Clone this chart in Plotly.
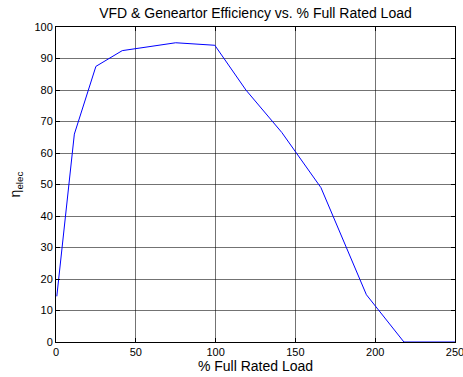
import plotly.graph_objects as go

load_pct = [0.5, 11.5, 25, 41.5, 75, 99.5, 119, 141.5, 166, 194.5, 218, 250]
eta_elec = [14.5, 66, 87.5, 92.5, 95, 94.2, 80, 66.5, 49, 15, 0, 0]

x_ticks = [0, 50, 100, 150, 200, 250]
y_ticks = [0, 10, 20, 30, 40, 50, 60, 70, 80, 90, 100]

fig = go.Figure(go.Scatter(x=load_pct, y=eta_elec, mode="lines",
                           line=dict(color="#0000ff", width=1)))

axis_common = dict(showline=True, linecolor="black", linewidth=1, mirror="ticks",
                   ticks="inside", ticklen=4, tickcolor="black",
                   showgrid=True, gridcolor="rgba(0,0,0,0.55)", gridwidth=1,
                   zeroline=False, tickfont=dict(size=11, color="black"),
                   ticklabeloverflow="allow", automargin=False)

fig.update_layout(
    width=463, height=377,
    margin=dict(l=56, r=8, t=27, b=35),
    paper_bgcolor="white", plot_bgcolor="white",
    font=dict(family="Liberation Sans, Arial, sans-serif", color="black", size=11),
    showlegend=False,
    title=dict(text="VFD & Geneartor Efficiency vs. % Full Rated Load",
               x=0.5, xanchor="center", y=0.965, yanchor="middle",
               xref="paper", font=dict(size=14)),
    xaxis=dict(range=[0, 250], tickvals=x_ticks,
               title=dict(text="% Full Rated Load", font=dict(size=14), standoff=3),
               **axis_common),
    yaxis=dict(range=[0, 100], tickvals=y_ticks,
               title=dict(text="η<sub>elec</sub>", font=dict(size=14), standoff=10),
               **axis_common),
)

fig.write_html("out.html")
